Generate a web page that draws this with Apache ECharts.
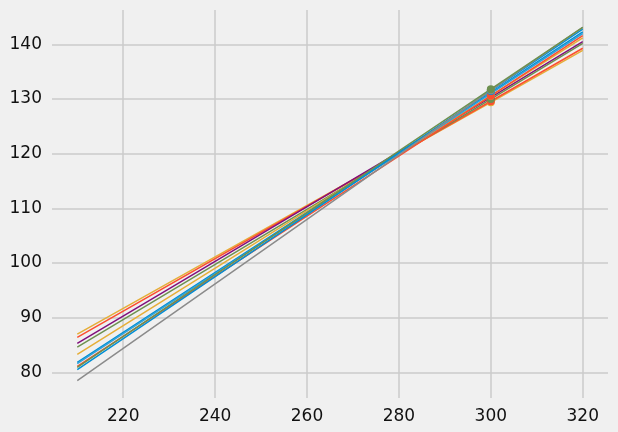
<!DOCTYPE html>
<html>
<head>
<meta charset="utf-8">
<script src="https://cdn.jsdelivr.net/npm/echarts@6/dist/echarts.min.js"></script>
<style>html,body{margin:0;padding:0;background:#f0f0f0}#chart{width:618px;height:432px}</style>
</head>
<body>
<div id="chart"></div>
<script>
// x positions of each line's points
var xs = [210, 300, 320];
// y values per line at 210, 300, 320
var lineValues = [
  [87.0, 129.4, 138.9],
  [86.4, 129.6, 139.3],
  [85.3, 130.3, 140.5],
  [84.6, 130.0, 140.2],
  [83.3, 130.6, 141.2],
  [81.8, 131.2, 142.3],
  [81.6, 131.0, 142.0],
  [81.1, 130.6, 141.6],
  [80.5, 131.5, 142.8],
  [78.5, 131.6, 143.1],
  [80.9, 131.8, 143.1]
];
var lineColors = ['#e5ae38', '#fc4f30', '#810f7c', '#6d904f', '#e5ae38', '#008fd5',
  '#30a2da', '#fc4f30', '#008fd5', '#8b8b8b', '#6d904f'];
var xTicks = [220, 240, 260, 280, 300, 320];
var yTicks = [80, 90, 100, 110, 120, 130, 140];

var chart = echarts.init(document.getElementById('chart'));
var series = lineValues.map(function (vals, i) {
  return {
    type: 'line',
    data: vals.map(function (v, j) { return [xs[j], v]; }),
    symbol: function (val) { return val[0] === 300 ? 'circle' : 'none'; },
    symbolSize: 8,
    showSymbol: true,
    lineStyle: { width: 1.5, color: lineColors[i] },
    itemStyle: { color: lineColors[i] },
    animation: false
  };
});
var axisText = { color: '#111', fontSize: 17, fontFamily: 'DejaVu Sans' };
function axis(min, max, ticks) {
  return {
    type: 'value', min: min, max: max,
    axisLine: { show: false },
    axisTick: { show: false, customValues: ticks },
    axisLabel: Object.assign({ margin: 10, customValues: ticks }, axisText),
    splitLine: { show: true, lineStyle: { color: '#cbcbcb', width: 1.5 } }
  };
}
chart.setOption({
  backgroundColor: '#f0f0f0',
  grid: { left: 52, right: 10, top: 10, bottom: 34, containLabel: false },
  xAxis: axis(204.5, 325.5, xTicks),
  yAxis: axis(75.3, 146.3, yTicks),
  series: series
});
</script>
</body>
</html>
